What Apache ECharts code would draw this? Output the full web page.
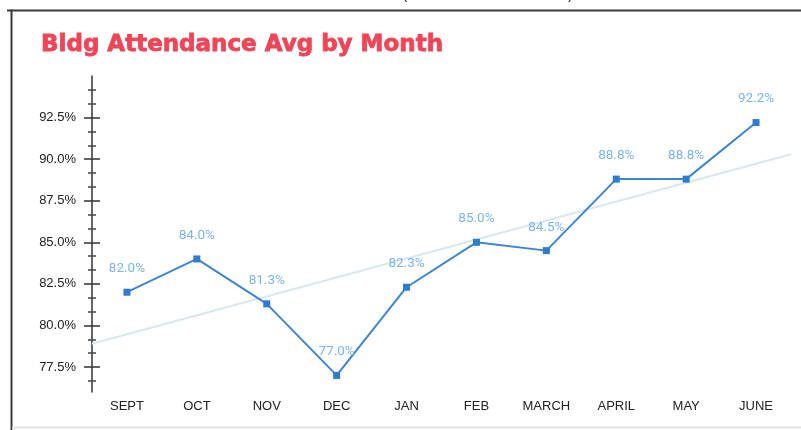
<!DOCTYPE html>
<html>
<head>
<meta charset="utf-8">
<script src="https://cdn.jsdelivr.net/npm/echarts@6/dist/echarts.min.js"></script>
<style>
html,body{margin:0;padding:0;background:#fff;}
#chart{width:801px;height:430px;}
</style>
</head>
<body>
<div id="chart"></div>
<script>
// ---- data ----
const titleText = 'Bldg Attendance Avg by Month';
const months = ['SEPT','OCT','NOV','DEC','JAN','FEB','MARCH','APRIL','MAY','JUNE'];
const monthPos = [1, 2, 3, 4, 5, 6, 7, 8, 9, 10];
const attendance = [82.0, 84.0, 81.3, 77.0, 82.3, 85.0, 84.5, 88.8, 88.8, 92.2];
const trendX = [0.5, 10.5];
const trendY = [78.9, 90.3];
const yMajorTicks = [77.5, 80.0, 82.5, 85.0, 87.5, 90.0, 92.5];
const yMin = 76, yMax = 95;

// minor ticks: 2 between each pair of major ticks (1/3 steps)
const step = 2.5 / 3;
const yMinorTicks = [];
for (let v = yMajorTicks[0] - step; v >= yMin - 1e-6; v -= step) yMinorTicks.push(+v.toFixed(4));
yMajorTicks.forEach(function (m) {
  for (let k = 1; k < 3; k++) {
    const v = m + k * step;
    if (v <= yMax + 1e-6) yMinorTicks.push(+v.toFixed(4));
  }
});
const attendanceData = monthPos.map(function (x, i) { return [x, attendance[i]]; });

const chart = echarts.init(document.getElementById('chart'), null, {renderer: 'canvas'});

function yAx(opts) {
  const base = {
    type: 'value', min: yMin, max: yMax, position: 'left',
    splitLine: {show: false},
    axisLine: {show: false},
    axisLabel: {show: false},
    axisTick: {show: false}
  };
  return Object.assign(base, opts);
}

const option = {
  backgroundColor: '#ffffff',
  animation: false,
  title: {
    text: titleText,
    left: 36, top: 29,
    textStyle: {
      fontFamily: 'DejaVu Sans', fontWeight: 'bold', fontSize: 23,
      color: '#f04457', textBorderColor: '#f04457', textBorderWidth: 0.8
    }
  },
  grid: {left: 92, right: 10, top: 76, bottom: 38, containLabel: false},
  xAxis: {
    type: 'value', min: trendX[0], max: trendX[1],
    axisLine: {show: false}, axisTick: {show: false},
    splitLine: {show: false},
    axisLabel: {
      customValues: monthPos,
      color: '#222', fontFamily: 'Liberation Sans', fontSize: 13, margin: 8,
      formatter: function (v) { return months[monthPos.indexOf(Math.round(v))]; }
    }
  },
  yAxis: [
    yAx({
      axisLine: {show: true, lineStyle: {color: '#333', width: 1.5}},
      axisTick: {show: true, customValues: yMajorTicks, length: 8, lineStyle: {color: '#333', width: 1.5}},
      axisLabel: {
        show: true, customValues: yMajorTicks, margin: 16,
        color: '#222', fontFamily: 'Liberation Sans', fontSize: 13,
        formatter: function (v) { return v.toFixed(1) + '%'; }
      }
    }),
    yAx({axisTick: {show: true, inside: true, customValues: yMajorTicks, length: 8, lineStyle: {color: '#333', width: 1.5}}}),
    yAx({axisTick: {show: true, customValues: yMinorTicks, length: 4, lineStyle: {color: '#444', width: 1.5}}}),
    yAx({axisTick: {show: true, inside: true, customValues: yMinorTicks, length: 4, lineStyle: {color: '#444', width: 1.5}}})
  ],
  series: [
    {
      name: 'trend',
      type: 'line', yAxisIndex: 0,
      data: [[trendX[0], trendY[0]], [trendX[1], trendY[1]]],
      showSymbol: false, silent: true,
      lineStyle: {color: '#d9e7f1', width: 2},
      z: 1
    },
    {
      name: 'attendance',
      type: 'line', yAxisIndex: 0,
      data: attendanceData,
      smooth: false, clip: false,
      zlevel: 1, z: 10,
      symbol: 'rect', symbolSize: 7, showAllSymbol: true,
      itemStyle: {color: '#2f7bcd'},
      lineStyle: {color: '#3d86cf', width: 2},
      label: {
        show: true, position: 'top', distance: 13,
        color: '#7ab5ec', fontFamily: 'Roboto', fontSize: 13.5,
        formatter: function (p) { return p.value[1].toFixed(1) + '%'; }
      }
    }
  ],
  graphic: [
    {type: 'line', shape: {x1: 7, y1: 10.5, x2: 801, y2: 10.5}, style: {stroke: '#3a3a3a', lineWidth: 2}},
    {type: 'line', shape: {x1: 11.5, y1: 9.5, x2: 11.5, y2: 430}, style: {stroke: '#3a3a3a', lineWidth: 2}},
    {type: 'line', shape: {x1: 12, y1: 427.5, x2: 801, y2: 427.5}, style: {stroke: '#e2e2e2', lineWidth: 2}},
    {type: 'text', left: 402, top: -13, style: {text: '(', fill: '#333', font: '16px Liberation Sans'}},
    {type: 'text', left: 568, top: -13, style: {text: ')', fill: '#333', font: '16px Liberation Sans'}}
  ]
};
chart.setOption(option);
</script>
</body>
</html>
